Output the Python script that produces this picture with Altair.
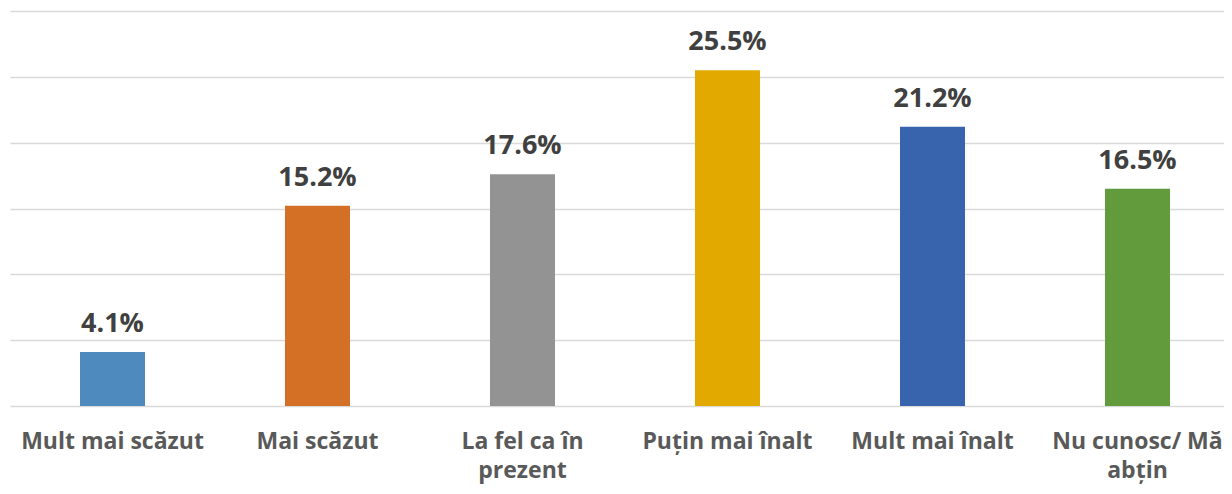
import altair as alt
import pandas as pd

categories = ["Mult mai scăzut", "Mai scăzut", "La fel ca în prezent",
              "Puțin mai înalt", "Mult mai înalt", "Nu cunosc/ Mă abțin"]
values = [4.1, 15.2, 17.6, 25.5, 21.2, 16.5]
colors = ["#4E8ABE", "#D46F26", "#939393", "#E2AA00", "#3864AE", "#629B3C"]
label_lines = {
    "La fel ca în prezent": ["La fel ca în", "prezent"],
    "Nu cunosc/ Mă abțin": ["Nu cunosc/ Mă", "abțin"],
}
y_ticks = [0, 5, 10, 15, 20, 25, 30]

df = pd.DataFrame({
    "cat": categories,
    "val": values,
    "label": [f"{v:.1f}%" for v in values],
})

expr = "datum.value"
for k, lines in label_lines.items():
    arr = "[" + ",".join(f"'{l}'" for l in lines) + "]"
    expr = f"datum.value === '{k}' ? {arr} : ({expr})"

FONT = "Open Sans"

x = alt.X(
    "cat:N", sort=categories,
    scale=alt.Scale(range=[0, 1230], paddingInner=0.683, paddingOuter=0.3415, round=False),
    axis=alt.Axis(title=None, labelAngle=0, labelFont=FONT, labelFontWeight="bold",
                  labelFontSize=23, labelColor="#595959", labelPadding=42,
                  labelBaseline="alphabetic", labelLineHeight=29, ticks=False, tickSize=0,
                  domain=False, labelExpr=expr, labelLimit=400, labelOverlap=False),
)
y = alt.Y(
    "val:Q",
    scale=alt.Scale(domain=[0, 30], nice=False),
    axis=alt.Axis(title=None, labels=False, ticks=False, domain=False, values=y_ticks,
                  grid=True, gridColor="#D9D9D9", gridWidth=1.5),
)

base = alt.Chart(df)
bars = base.mark_bar().encode(
    x=x, y=y,
    color=alt.Color("cat:N", scale=alt.Scale(domain=categories, range=colors), legend=None),
)
text = base.mark_text(dy=-20, baseline="alphabetic", font=FONT, fontWeight="bold",
                      fontSize=27, color="#404040").encode(
    x=alt.X("cat:N", sort=categories), y="val:Q", text="label:N")

chart = alt.layer(bars, text).properties(
    width=1214, height=395,
    autosize=alt.AutoSizeParams(type="none"),
    padding={"left": 2, "top": 3, "right": 0, "bottom": 80},
).configure_view(stroke=None)

chart.save("out.html", embed_options={"renderer": "svg", "actions": False})
